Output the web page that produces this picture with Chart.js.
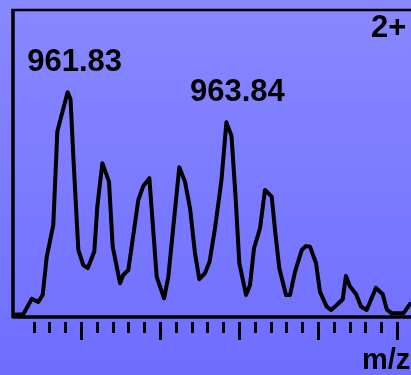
<!DOCTYPE html>
<html>
<head>
<meta charset="utf-8">
<title>Isotope envelope, 2+ ion</title>
<script src="https://cdn.jsdelivr.net/npm/chart.js@4.4.1/dist/chart.umd.min.js"></script>
<style>
  html, body {
    margin: 0;
    padding: 0;
    width: 411px;
    height: 375px;
    overflow: hidden;
    background: linear-gradient(to bottom, #8888ff 0%, #6e6eff 100%);
  }
  canvas { display: block; }
</style>
</head>
<body>
<canvas id="spectrum" width="411" height="375"></canvas>
<script>
// Profile spectrum of the doubly charged isotope cluster
const mzValues = [
  961.143, 961.270, 961.376, 961.459, 961.515, 961.566, 961.649, 961.700,
  961.830, 961.867, 961.905, 961.966, 962.029, 962.085, 962.168, 962.206,
  962.270, 962.354, 962.401, 962.494, 962.535, 962.599, 962.725, 962.789,
  962.865, 962.958, 963.051, 963.105, 963.244, 963.316, 963.380, 963.443,
  963.497, 963.570, 963.627, 963.696, 963.778, 963.840, 963.905, 963.956,
  964.004, 964.089, 964.139, 964.190, 964.266, 964.329, 964.414, 964.456,
  964.510, 964.595, 964.646, 964.709, 964.794, 964.848, 964.899, 964.975,
  965.025, 965.110, 965.165, 965.237, 965.313, 965.354, 965.405, 965.481,
  965.544, 965.616, 965.734, 965.819, 965.870, 965.933, 966.080, 966.177,
  966.266
];
const intensity = [
  0.7, 0.9, 5.9, 4.9, 7.2, 19.6, 30.0, 60.4,
  73.2, 71.0, 51.1, 21.8, 16.9, 15.9, 21.3, 35.9,
  50.1, 44.1, 22.9, 11.0, 13.7, 15.3, 38.1, 42.7,
  45.2, 13.1, 6.1, 13.1, 48.8, 44.1, 35.4, 20.7,
  12.3, 14.3, 18.0, 28.9, 44.6, 63.4, 59.0, 39.2,
  17.5, 7.2, 10.4, 22.4, 28.9, 41.4, 39.2, 28.3,
  15.9, 7.2, 7.2, 14.8, 21.8, 23.1, 22.9, 17.5,
  8.2, 3.4, 2.3, 3.9, 5.8, 13.4, 9.9, 7.5,
  3.4, 2.3, 9.5, 7.4, 2.5, 1.2, 1.2, 4.7,
  8.8
];

// Axis tick positions (m/z); no numeric labels are printed
const majorTicks = [962, 963, 964, 965, 966];
const minorTicks = [
  961.4, 961.6, 961.8,
  962.2, 962.4, 962.6, 962.8,
  963.2, 963.4, 963.6, 963.8,
  964.2, 964.4, 964.6, 964.8,
  965.2, 965.4, 965.6, 965.8
];

// Annotated peaks and text
const peakLabelMz = [961.83, 963.84];
const peakLabelText = ['961.83', '963.84'];
const chargeLabel = '2+';
const axisTitle = 'm/z';

const points = mzValues.map((mz, i) => ({ x: mz, y: intensity[i] }));

const FONT = '"Liberation Sans", Arial, Helvetica, sans-serif';

// Frame, axis line and tick marks drawn from the x scale
const framePlugin = {
  id: 'frame',
  afterDatasetsDraw(chart) {
    const { ctx, chartArea, scales } = chart;
    const x = scales.x;
    ctx.save();
    ctx.strokeStyle = '#000';
    ctx.lineCap = 'butt';

    // top border
    ctx.lineWidth = 2.5;
    ctx.beginPath();
    ctx.moveTo(chartArea.left - 1.5, chartArea.top);
    ctx.lineTo(chart.width, chartArea.top);
    ctx.stroke();

    // left border + bottom axis
    ctx.lineWidth = 3.5;
    ctx.lineJoin = 'round';
    ctx.beginPath();
    ctx.moveTo(chartArea.left, chartArea.top - 1);
    ctx.lineTo(chartArea.left, chartArea.bottom);
    ctx.lineTo(chart.width, chartArea.bottom);
    ctx.stroke();

    // tick marks
    ctx.lineWidth = 3;
    const y0 = chartArea.bottom + 5;
    minorTicks.forEach(v => {
      const px = Math.round(x.getPixelForValue(v)) + 0.5;
      ctx.beginPath();
      ctx.moveTo(px, y0);
      ctx.lineTo(px, y0 + 11);
      ctx.stroke();
    });
    majorTicks.forEach(v => {
      const px = Math.round(x.getPixelForValue(v)) + 0.5;
      ctx.beginPath();
      ctx.moveTo(px, y0);
      ctx.lineTo(px, y0 + 18);
      ctx.stroke();
    });
    ctx.restore();
  },
  afterDraw(chart) {
    const { ctx, chartArea, scales } = chart;
    ctx.save();
    ctx.fillStyle = '#000';
    ctx.textBaseline = 'alphabetic';

    // peak annotations above their maxima
    ctx.font = 'bold 31px ' + FONT;
    ctx.textAlign = 'center';
    const dx = [7, 11];
    peakLabelMz.forEach((mz, i) => {
      const idx = mzValues.indexOf(mz);
      const px = scales.x.getPixelForValue(mz);
      const py = scales.y.getPixelForValue(intensity[idx]);
      ctx.fillText(peakLabelText[i], px + dx[i], py - 21);
    });

    // charge state, top right
    ctx.textAlign = 'left';
    ctx.fillText(chargeLabel, 371, chartArea.top + 27);

    // axis title
    ctx.font = 'bold 29px ' + FONT;
    ctx.fillText(axisTitle, 362, 369);
    ctx.restore();
  }
};

new Chart(document.getElementById('spectrum'), {
  type: 'line',
  data: {
    datasets: [{
      data: points,
      borderColor: '#000',
      borderWidth: 4,
      borderJoinStyle: 'round',
      pointRadius: 0,
      tension: 0,
      fill: false
    }]
  },
  options: {
    responsive: false,
    animation: false,
    devicePixelRatio: 1,
    layout: { padding: { left: 13, right: 0, top: 10, bottom: 58 } },
    plugins: {
      legend: { display: false },
      tooltip: { enabled: false },
      title: { display: false }
    },
    scales: {
      x: { type: 'linear', display: false, min: 961.139, max: 966.177 },
      y: { display: false, min: 0, max: 100 }
    }
  },
  plugins: [framePlugin]
});
</script>
</body>
</html>
